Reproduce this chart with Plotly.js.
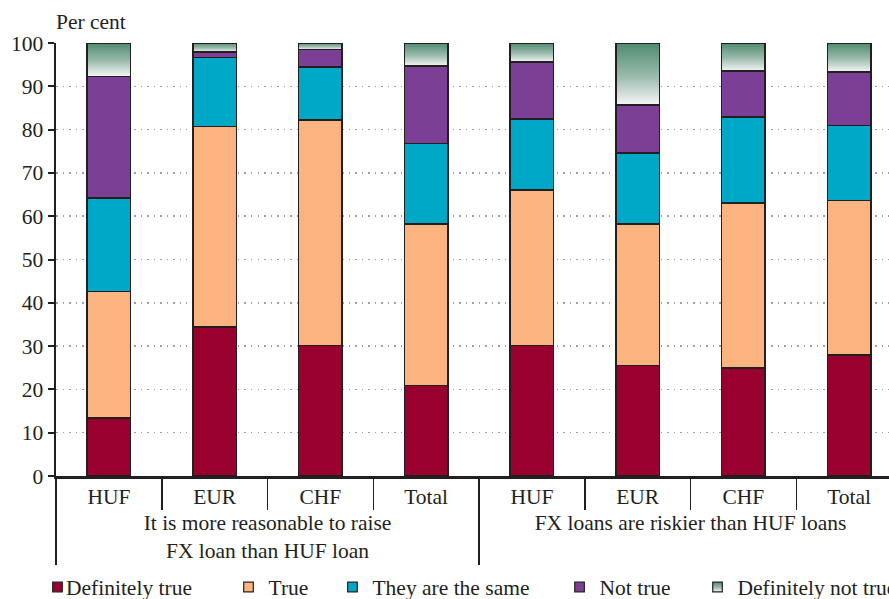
<!DOCTYPE html>
<html>
<head>
<meta charset="utf-8">
<script src="https://cdn.plot.ly/plotly-3.0.1.min.js"></script>
<style>
html, body { margin: 0; padding: 0; overflow: hidden; background: #fff; }
#plot { width: 920px; height: 599px; }
/* compact legend entries: smaller square right next to its text */
#plot text.legendtext { transform: translateX(-11.5px); }
#plot .legendpoints path { transform: translate(20px, 0px) scale(0.8); }
#plot .legend5 .legendpoints path { fill: url(#dntGrad) !important; }
</style>
</head>
<body>
<div id="plot"></div>
<script>
// ---- data ----
const currencies = ['HUF', 'EUR', 'CHF', 'Total'];
const statements = ['It is more reasonable to raise<br>FX loan than HUF loan', 'FX loans are riskier than HUF loans'];
const seriesNames = ['Definitely true', 'True', 'They are the same', 'Not true', 'Definitely not true'];
const definitelyTrue    = [13.4, 34.4, 30.1, 20.9, 30.1, 25.5, 25.0, 28.0];
const trueVals          = [29.2, 46.3, 52.1, 37.3, 36.0, 32.7, 38.1, 35.6];
const theSame           = [21.6, 16.0, 12.3, 18.6, 16.4, 16.4, 19.8, 17.3];
const notTrue           = [28.1,  1.2,  4.0, 17.9, 13.1, 11.1, 10.6, 12.4];
const definitelyNotTrue = [ 7.7,  2.1,  1.5,  5.3,  4.4, 14.3,  6.5,  6.7];
const yTicks = [0, 10, 20, 30, 40, 50, 60, 70, 80, 90, 100];

// ---- styles ----
const colors = ['#990030', '#FBB480', '#00A8C8', '#7B3F95', '#7FA896'];
const outline = '#231F20';
const legendX = [-0.0219, 0.2039, 0.3268, 0.5952, 0.7583];
const legendIds = ['legend', 'legend2', 'legend3', 'legend4', 'legend5'];
const FS = 21.5;

const groupLevel = [];
const subLevel = [];
statements.forEach(s => currencies.forEach(c => { groupLevel.push(s); subLevel.push(c); }));
const xCats = [groupLevel, subLevel];

const seriesValues = [definitelyTrue, trueVals, theSame, notTrue, definitelyNotTrue];
const traces = seriesValues.map((vals, i) => ({
  type: 'bar',
  name: seriesNames[i],
  legend: legendIds[i],
  x: xCats,
  y: vals,
  cliponaxis: false,
  marker: { color: colors[i], line: { color: outline, width: 1.5 } },
  hoverinfo: 'skip'
}));

const layout = {
  width: 920,
  height: 599,
  margin: { l: 56, r: 18, t: 43, b: 123, autoexpand: false },
  paper_bgcolor: '#ffffff',
  plot_bgcolor: '#ffffff',
  font: { family: '"Liberation Serif", "DejaVu Serif", serif', size: FS, color: '#231F20' },
  barmode: 'stack',
  bargap: 0.59,
  showlegend: true,
  xaxis: {
    type: 'multicategory',
    automargin: false,
    range: [-0.5, 7.5],
    showline: true, linecolor: outline, linewidth: 2.5,
    ticks: 'outside', ticklen: 31, tickwidth: 1.5, tickcolor: outline,
    showdividers: true, dividercolor: outline, dividerwidth: 1.5,
    showgrid: false, zeroline: false,
    tickfont: { size: FS }
  },
  yaxis: {
    automargin: false,
    range: [0, 100],
    tickvals: yTicks,
    ticktext: yTicks.map(String),
    showline: true, linecolor: outline, linewidth: 2.5,
    ticks: 'outside', ticklen: 6, tickwidth: 2, tickcolor: outline,
    showgrid: true, gridcolor: '#a0a0a0', gridwidth: 1.5, griddash: '1.5px,5px',
    zeroline: false,
    tickfont: { size: FS }
  },
  annotations: [{
    text: 'Per cent',
    xref: 'paper', yref: 'paper',
    x: -0.002, y: 1.0485, xanchor: 'left', yanchor: 'middle',
    showarrow: false,
    font: { size: FS }
  }]
};
legendIds.forEach((id, i) => {
  layout[id] = {
    orientation: 'h',
    x: legendX[i], xanchor: 'left',
    y: -0.2564, yanchor: 'middle',
    font: { size: FS },
    bgcolor: 'rgba(0,0,0,0)',
    borderwidth: 0
  };
});

const NS = 'http://www.w3.org/2000/svg';
function ensureGradient(gd) {
  if (document.getElementById('dntGrad')) return;
  const svg = gd.querySelector('svg.main-svg');
  if (!svg) return;
  let defs = svg.querySelector('defs');
  if (!defs) { defs = document.createElementNS(NS, 'defs'); svg.insertBefore(defs, svg.firstChild); }
  const grad = document.createElementNS(NS, 'linearGradient');
  grad.setAttribute('id', 'dntGrad');
  grad.setAttribute('x1', '0'); grad.setAttribute('y1', '0');
  grad.setAttribute('x2', '0'); grad.setAttribute('y2', '1');
  [['0', '#4E8B6E'], ['0.55', '#9DBCAE'], ['1', '#F4F6F6']].forEach(([o, c]) => {
    const s = document.createElementNS(NS, 'stop');
    s.setAttribute('offset', o); s.setAttribute('stop-color', c);
    grad.appendChild(s);
  });
  defs.appendChild(grad);
}

function restyleDom(gd) {
  ensureGradient(gd);
  const gradUrl = 'url("#dntGrad")';
  // vertical green-to-white gradient for the "Definitely not true" bars
  const barTraces = gd.querySelectorAll('.barlayer .trace');
  const last = barTraces[barTraces.length - 1];
  if (last) last.querySelectorAll('path').forEach(p => { if (p.style.fill !== gradUrl) p.style.fill = gradUrl; });
}

const gdEl = document.getElementById('plot');
Plotly.newPlot(gdEl, traces, layout, { displayModeBar: false, staticPlot: true }).then(gd => {
  restyleDom(gd);
  gd.on('plotly_afterplot', () => restyleDom(gd));
  setTimeout(() => restyleDom(gd), 50);
});
restyleDom(gdEl);
</script>
</body>
</html>
